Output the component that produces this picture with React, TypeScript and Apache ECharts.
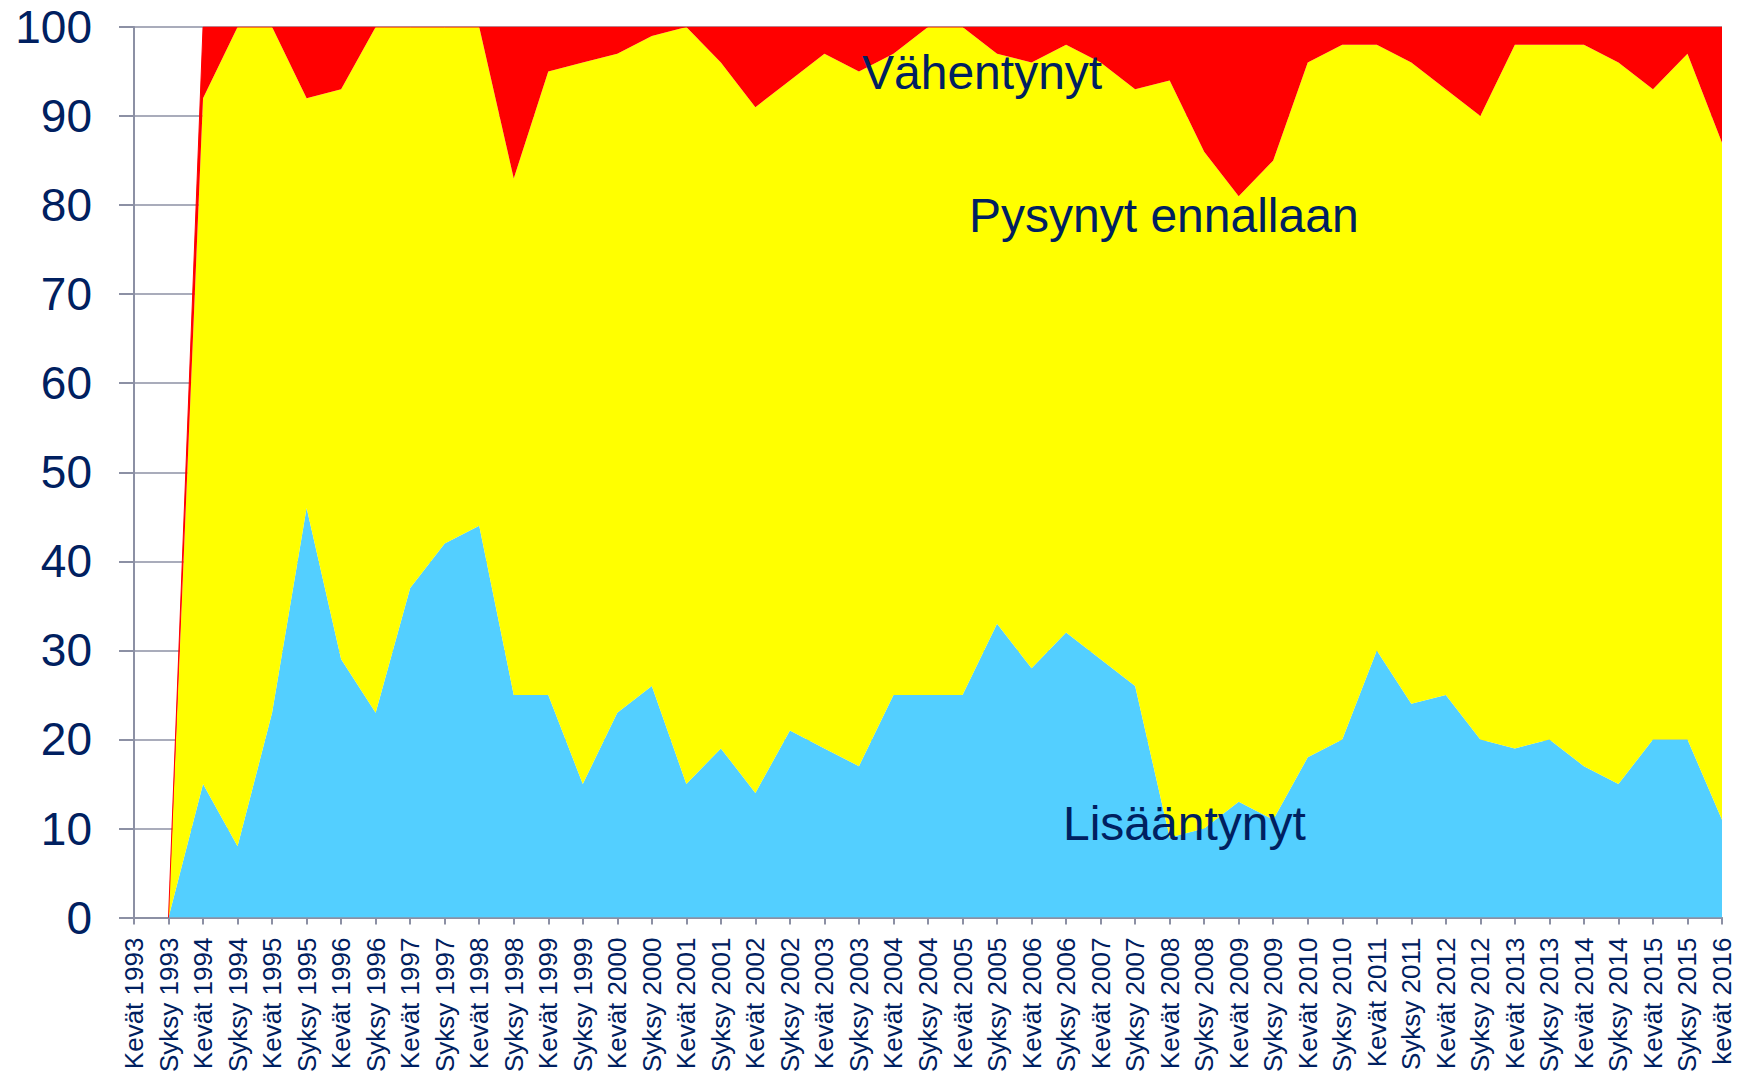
import React, { useEffect, useRef } from "react";
import * as echarts from "echarts";

const categories = [
  "Kevät 1993", "Syksy 1993", "Kevät 1994", "Syksy 1994", "Kevät 1995", "Syksy 1995",
  "Kevät 1996", "Syksy 1996", "Kevät 1997", "Syksy 1997", "Kevät 1998", "Syksy 1998",
  "Kevät 1999", "Syksy 1999", "Kevät 2000", "Syksy 2000", "Kevät 2001", "Syksy 2001",
  "Kevät 2002", "Syksy 2002", "Kevät 2003", "Syksy 2003", "Kevät 2004", "Syksy 2004",
  "Kevät 2005", "Syksy 2005", "Kevät 2006", "Syksy 2006", "Kevät 2007", "Syksy 2007",
  "Kevät 2008", "Syksy 2008", "Kevät 2009", "Syksy 2009", "Kevät 2010", "Syksy 2010",
  "Kevät 2011", "Syksy 2011", "Kevät 2012", "Syksy 2012", "Kevät 2013", "Syksy 2013",
  "Kevät 2014", "Syksy 2014", "Kevät 2015", "Syksy 2015", "kevät 2016",
];

const lisaantynyt = [
  "-", 0, 15, 8, 23, 46, 29, 23, 37, 42, 44, 25, 25, 15, 23, 26, 15, 19, 14, 21, 19, 17, 25, 25,
  25, 33, 28, 32, 29, 26, 9, 10, 13, 11, 18, 20, 30, 24, 25, 20, 19, 20, 17, 15, 20, 20, 11,
];

const pysynytEnnallaan = [
  "-", 0, 77, 92, 77, 46, 64, 77, 63, 58, 56, 58, 70, 81, 74, 73, 85, 77, 77, 73, 78, 78, 72, 75,
  75, 64, 68, 66, 67, 67, 85, 76, 68, 74, 78, 78, 68, 72, 68, 70, 79, 78, 81, 81, 73, 77, 76,
];

const vahentynyt = [
  "-", 0, 8, 0, 0, 8, 7, 0, 0, 0, 0, 17, 5, 4, 3, 1, 0, 4, 9, 6, 3, 5, 3, 0,
  0, 3, 4, 2, 4, 7, 6, 14, 19, 15, 4, 2, 2, 4, 7, 10, 2, 2, 2, 4, 7, 3, 13,
];

const seriesNames = ["Lisääntynyt", "Pysynyt ennallaan", "Vähentynyt"];
const seriesColors = ["#53CFFF", "#FFFF00", "#FF0000"];

const TEXT = "#002060";
const GRID = "#8C90A4";
const FONT = "'Liberation Sans', Arial, sans-serif";

export default function App() {
  const ref = useRef<HTMLDivElement>(null);

  useEffect(() => {
    document.body.style.margin = "0";
    if (!ref.current) return;
    const chart = echarts.init(ref.current, undefined, { renderer: "svg" });
    const datas = [lisaantynyt, pysynytEnnallaan, vahentynyt];
    chart.setOption({
      animation: false,
      backgroundColor: "#ffffff",
      grid: { left: 134, right: 20, top: 27, bottom: 154, containLabel: false },
      xAxis: {
        type: "category",
        data: categories,
        boundaryGap: false,
        axisLine: { show: true, lineStyle: { color: GRID, width: 2 } },
        axisTick: { show: true, length: 7, interval: 0, lineStyle: { color: GRID, width: 2 } },
        axisLabel: {
          interval: 0,
          rotate: 90,
          margin: 20,
          color: TEXT,
          fontSize: 26,
          fontFamily: FONT,
        },
        splitLine: { show: false },
      },
      yAxis: {
        type: "value",
        min: 0,
        max: 100,
        interval: 10,
        axisLine: { show: true, lineStyle: { color: GRID, width: 2 } },
        axisTick: { show: true, length: 15, lineStyle: { color: GRID, width: 2 } },
        axisLabel: { margin: 42, color: TEXT, fontSize: 46, fontFamily: FONT },
        splitLine: { show: true, lineStyle: { color: GRID, width: 1.5 } },
      },
      series: datas.map((d, i) => ({
        name: seriesNames[i],
        type: "line",
        stack: "total",
        data: d,
        showSymbol: false,
        symbol: "none",
        lineStyle: { width: i === 2 ? 1 : 0, color: seriesColors[i] },
        areaStyle: { color: seriesColors[i], opacity: 1 },
        itemStyle: { color: seriesColors[i] },
        emphasis: { disabled: true },
        z: 2,
      })),
      graphic: [
        {
          type: "text",
          x: 862,
          y: 72,
          style: { text: "Vähentynyt", font: `48px ${FONT}`, fill: TEXT, verticalAlign: "middle" },
          z: 10,
        },
        {
          type: "text",
          x: 969,
          y: 215,
          style: { text: "Pysynyt ennallaan", font: `48px ${FONT}`, fill: TEXT, verticalAlign: "middle" },
          z: 10,
        },
        {
          type: "text",
          x: 1063,
          y: 823,
          style: { text: "Lisääntynyt", font: `48px ${FONT}`, fill: TEXT, verticalAlign: "middle" },
          z: 10,
        },
      ],
    });
    return () => chart.dispose();
  }, []);

  return <div ref={ref} style={{ width: 1742, height: 1075 }} />;
}
